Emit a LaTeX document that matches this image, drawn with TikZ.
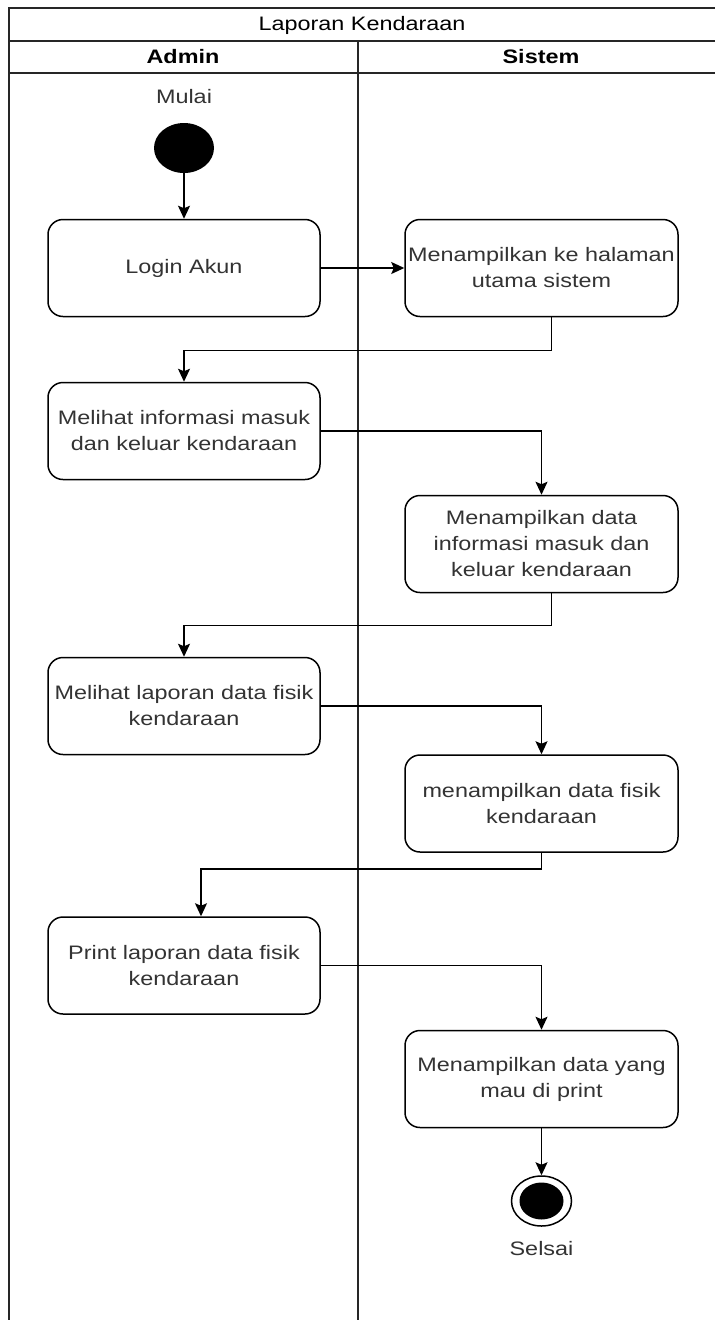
\documentclass[tikz,border=0pt]{standalone}
\usepackage{fontspec}
\setmainfont{Liberation Sans}
\newfontfamily\lbl[FakeStretch=1.2]{Liberation Sans}
\usetikzlibrary{arrows.meta,shapes.geometric}
\definecolor{txt}{HTML}{333333}
\tikzset{
  act/.style={draw, line width=1.5pt, rounded corners=15pt, fill=white,
    minimum width=272pt, minimum height=97pt, align=center, text width=270pt,
    inner xsep=0pt,
    font=\lbl\fontsize{19.5}{26}\selectfont, text=txt},
  plain/.style={font=\lbl\fontsize{19.5}{26}\selectfont, text=txt},
  head/.style={font=\lbl\fontsize{19.5}{26}\selectfont\bfseries, text=black},
  arr/.style={line width=1.5pt, -{Stealth[length=13pt,width=12pt,inset=2.5pt]}},
  frame/.style={line width=2pt, draw=black!85}
}
\begin{document}
\begin{tikzpicture}[x=1pt,y=-1pt]
\useasboundingbox (0,0) rectangle (715,1320);
\fill[white] (0,0) rectangle (715,1320);

% swimlane frame
\draw[frame] (9,1320) -- (9,8) -- (715,8);
\draw[frame] (9,41) -- (715,41);
\draw[frame] (9,73) -- (715,73);
\draw[frame] (358,41) -- (358,1320);

\node[plain, text=black] (title) at (362,25) {Laporan Kendaraan};
\node[head] (laneA) at (183,57) {Admin};
\node[head] (laneS) at (541,57) {Sistem};

% start
\node[plain] (mulai) at (184,97) {Mulai};
\node[ellipse, fill=black, minimum width=60pt, minimum height=50pt, inner sep=0pt] (start) at (184,148) {};

% activities
\node[act] (a1) at (184,268) {Login Akun};
\node[act, minimum width=273pt] (s1) at (541.5,268) {Menampilkan ke halaman\\utama sistem};
\node[act] (a2) at (184,431) {Melihat informasi masuk\\dan keluar kendaraan};
\node[act, minimum width=273pt] (s2) at (541.5,544) {Menampilkan data\\informasi masuk dan\\keluar kendaraan};
\node[act] (a3) at (184,706) {Melihat laporan data fisik\\kendaraan};
\node[act, minimum width=273pt] (s3) at (541.5,803.5) {menampilkan data fisik\\kendaraan};
\node[act] (a4) at (184,965.5) {Print laporan data fisik\\kendaraan};
\node[act, minimum width=273pt] (s4) at (541.5,1079) {Menampilkan data yang\\mau di print};

% end
\node[ellipse, draw=black, line width=1.5pt, fill=white, minimum width=60pt, minimum height=50pt, inner sep=0pt] (end) at (541.5,1201) {};
\node[ellipse, fill=black, minimum width=44pt, minimum height=37pt, inner sep=0pt] (endin) at (end.center) {};
\node[plain] (selsai) at (541.5,1249) {Selsai};

% flow
\draw[arr] (start.south) -- (a1.north);
\draw[arr] (a1.east) -- (s1.west);
\draw[arr] ([xshift=10pt]s1.south) -- ++(0,33) -| (a2.north);
\draw[arr] (a2.east) -| (s2.north);
\draw[arr] ([xshift=10pt]s2.south) -- ++(0,32) -| (a3.north);
\draw[arr] (a3.east) -| (s3.north);
\draw[arr] (s3.south) -- ++(0,16) -| ([xshift=17pt]a4.north);
\draw[arr] (a4.east) -| (s4.north);
\draw[arr] (s4.south) -- (end.north);
\end{tikzpicture}
\end{document}
